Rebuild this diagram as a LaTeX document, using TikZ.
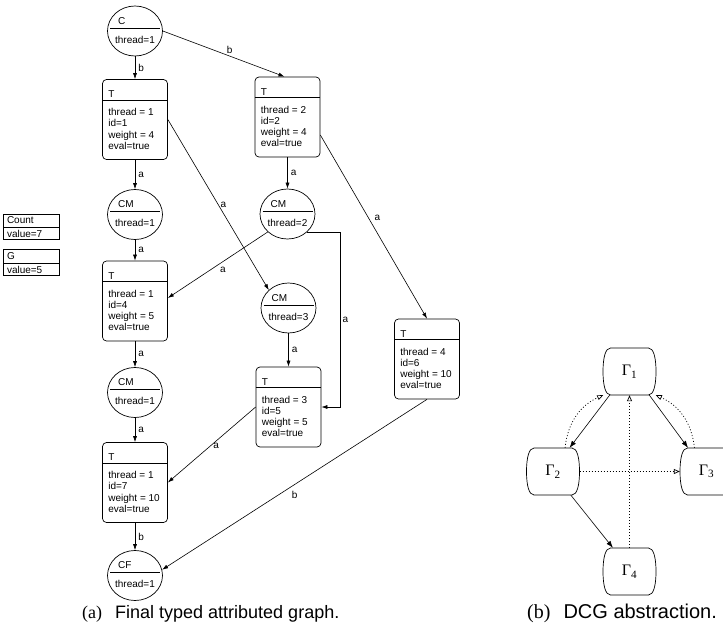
\documentclass[tikz,border=0pt]{standalone}
\usepackage{fontspec}
\setmainfont{Liberation Sans}
\newfontfamily\serfont{Liberation Serif}
\usetikzlibrary{arrows.meta,positioning,calc,shapes.geometric}
\newcommand{\gsize}{\fontsize{10}{12}\selectfont}
% object node: ellipse with type above and attribute below a divider
\newcommand{\objnode}[4]{%
  \node[obj] (#1) at (#2) {};
  \draw[line width=0.6pt] ([xshift=-25pt,yshift=3pt]#1.center) -- ([xshift=25pt,yshift=3pt]#1.center);
  \node[txt] at ([xshift=-17pt,yshift=7pt]#1.center) {#3};
  \node[ctxt] at ([yshift=-12pt]#1.center) {#4};
}
% task node: rounded box with type T and four attributes
\newcommand{\tnode}[5]{%
  \node[tbox] (#1) at (#2) {};
  \draw[line width=0.6pt] ([yshift=-21pt]#1.north west) -- ([yshift=-21pt]#1.north east);
  \node[txt] at ([xshift=6pt,yshift=-18.5pt]#1.north west) {T};
  \node[txt] at ([xshift=6pt,yshift=-36.5pt]#1.north west) {thread = #3};
  \node[txt] at ([xshift=6pt,yshift=-47.7pt]#1.north west) {id=#4};
  \node[txt] at ([xshift=6pt,yshift=-58.9pt]#1.north west) {weight = #5};
  \node[txt] at ([xshift=6pt,yshift=-70.1pt]#1.north west) {eval=true};
}
% DCG node: box with bulging sides
\newcommand{\dcgnode}[3]{%
  \node[gnode] (#1) at (#2) {#3};
  \draw[line width=0.7pt] ([xshift=-19pt,yshift=23.5pt]#1.center) -- ([xshift=19pt,yshift=23.5pt]#1.center)
    .. controls ([xshift=24pt,yshift=23.5pt]#1.center) and ([xshift=26.5pt,yshift=14pt]#1.center) .. ([xshift=26.5pt]#1.center)
    .. controls ([xshift=26.5pt,yshift=-14pt]#1.center) and ([xshift=24pt,yshift=-23.5pt]#1.center) .. ([xshift=19pt,yshift=-23.5pt]#1.center)
    -- ([xshift=-19pt,yshift=-23.5pt]#1.center)
    .. controls ([xshift=-24pt,yshift=-23.5pt]#1.center) and ([xshift=-26.5pt,yshift=-14pt]#1.center) .. ([xshift=-26.5pt]#1.center)
    .. controls ([xshift=-26.5pt,yshift=14pt]#1.center) and ([xshift=-24pt,yshift=23.5pt]#1.center) .. cycle;
}
\tikzset{
  obj/.style={ellipse, draw, line width=0.7pt, minimum width=55pt, minimum height=50pt, inner sep=0pt},
  tbox/.style={draw, line width=0.7pt, rounded corners=4pt, minimum width=65pt, minimum height=80pt, inner sep=0pt},
  vbox/.style={draw, line width=0.7pt, text width=48pt, inner xsep=4pt, inner ysep=0pt, align=left, font=\gsize},
  txt/.style={font=\gsize, inner sep=0pt, anchor=base west},
  ctxt/.style={font=\gsize, inner sep=0pt, anchor=base},
  elab/.style={font=\gsize, inner sep=2pt},
  edge/.style={-{Latex[length=6pt,width=4pt]}, line width=0.6pt},
  gnode/.style={rectangle, minimum width=53pt, minimum height=47pt, inner sep=0pt, font=\serfont\fontsize{16}{16}\selectfont},
  gsolid/.style={-{Latex[length=7pt,width=5pt]}, line width=0.6pt},
  gdot/.style={-{Triangle[open,length=6pt,width=5pt]}, line width=0.7pt, dash pattern=on 1pt off 2pt},
  captxt/.style={anchor=base west, inner sep=0pt},
}
\begin{document}
\begin{tikzpicture}[x=1pt, y=-1pt]
  \clip (0,0) rectangle (723,637);
  % typed attributed graph
  \objnode{c}{135,31}{C}{thread=1}
  \tnode{t1}{135,119.5}{1}{1}{4}
  \tnode{t2}{287.5,117}{2}{2}{4}
  \objnode{cm1}{135,214.5}{CM}{thread=1}
  \objnode{cm2}{287.5,214}{CM}{thread=2}
  \tnode{t4}{135,301}{1}{4}{5}
  \objnode{cm3}{288.5,308}{CM}{thread=3}
  \tnode{t6}{427,359}{4}{6}{10}
  \objnode{cm4}{135,392.5}{CM}{thread=1}
  \tnode{t5}{288.5,407}{3}{5}{5}
  \tnode{t7}{135,482.5}{1}{7}{10}
  \objnode{cf}{135,575.5}{CF}{thread=1}
  \node[vbox, minimum height=13pt] (count) at (31,220.5) {Count};
  \node[vbox, minimum height=12pt, below=0pt of count] (countv) {value=7};
  \node[vbox, minimum height=14pt] (gval) at (31,256) {G};
  \node[vbox, minimum height=12pt, below=0pt of gval] (gvalv) {value=5};
  \draw[edge] (c) -- node[elab, right=1pt] {b} (t1);
  \draw[edge] (c.east) -- node[elab, above, pos=0.55] {b} ([xshift=-3pt]t2.north);
  \draw[edge] (t1) -- node[elab, right=1pt] {a} (cm1);
  \draw[edge] (t2) -- node[elab, right=1pt] {a} (cm2);
  \draw[edge] (t1.east) -- node[elab, right, pos=0.5] {a} (cm3.north west);
  \draw[edge] (cm1) -- node[elab, right=1pt] {a} (t4);
  \draw[edge] (cm2.south west) -- node[elab, below=3pt, pos=0.45] {a} ([yshift=3pt]t4.east);
  \draw[edge] (cm2.south east) -| node[elab, right, pos=0.75] {a} ([xshift=19pt]t5.east) -- (t5.east);
  \draw[edge] (cm3) -- node[elab, right=1pt] {a} (t5);
  \draw[edge] (t4) -- node[elab, right=1pt] {a} (cm4);
  \draw[edge] (cm4) -- node[elab, right=1pt] {a} (t7);
  \draw[edge] (t5.west) -- node[elab, below, pos=0.45] {a} (t7.east);
  \draw[edge] ([yshift=-18pt]t2.east) -- node[elab, right=4pt, pos=0.45] {a} (t6.north);
  \draw[edge] (t7) -- node[elab, right=1pt] {b} (cf);
  \draw[edge] (t6.south) -- node[elab, below=4pt, pos=0.5] {b} (cf.12);
  % DCG abstraction
  \dcgnode{g1}{629.5,371.5}{Γ\textsubscript{1}}
  \dcgnode{g2}{553,471.5}{Γ\textsubscript{2}}
  \dcgnode{g3}{706.5,471.5}{Γ\textsubscript{3}}
  \dcgnode{g4}{629.5,571.5}{Γ\textsubscript{4}}
  \draw[gsolid] (g1.230) -- (g2.55);
  \draw[gsolid] (g1.310) -- (g3.128);
  \draw[gsolid] (g2.307) -- (g4.125);
  \draw[gdot] (g2.63) to[bend left=30] (g1.222);
  \draw[gdot] (g3.117) to[bend right=30] (g1.318);
  \draw[gdot] (g2) -- (g3);
  \draw[gdot] (g4) -- (g1);
  % captions
  \node[captxt, font=\fontsize{18}{20}\selectfont] (capa) at (82,618.5) {{\serfont (a)}\hspace{13pt}Final typed attributed graph.};
  \node[captxt, font=\fontsize{20}{22}\selectfont] (capb) at (527,618.5) {{\serfont (b)}\hspace{13pt}DCG abstraction.};
\end{tikzpicture}
\end{document}
